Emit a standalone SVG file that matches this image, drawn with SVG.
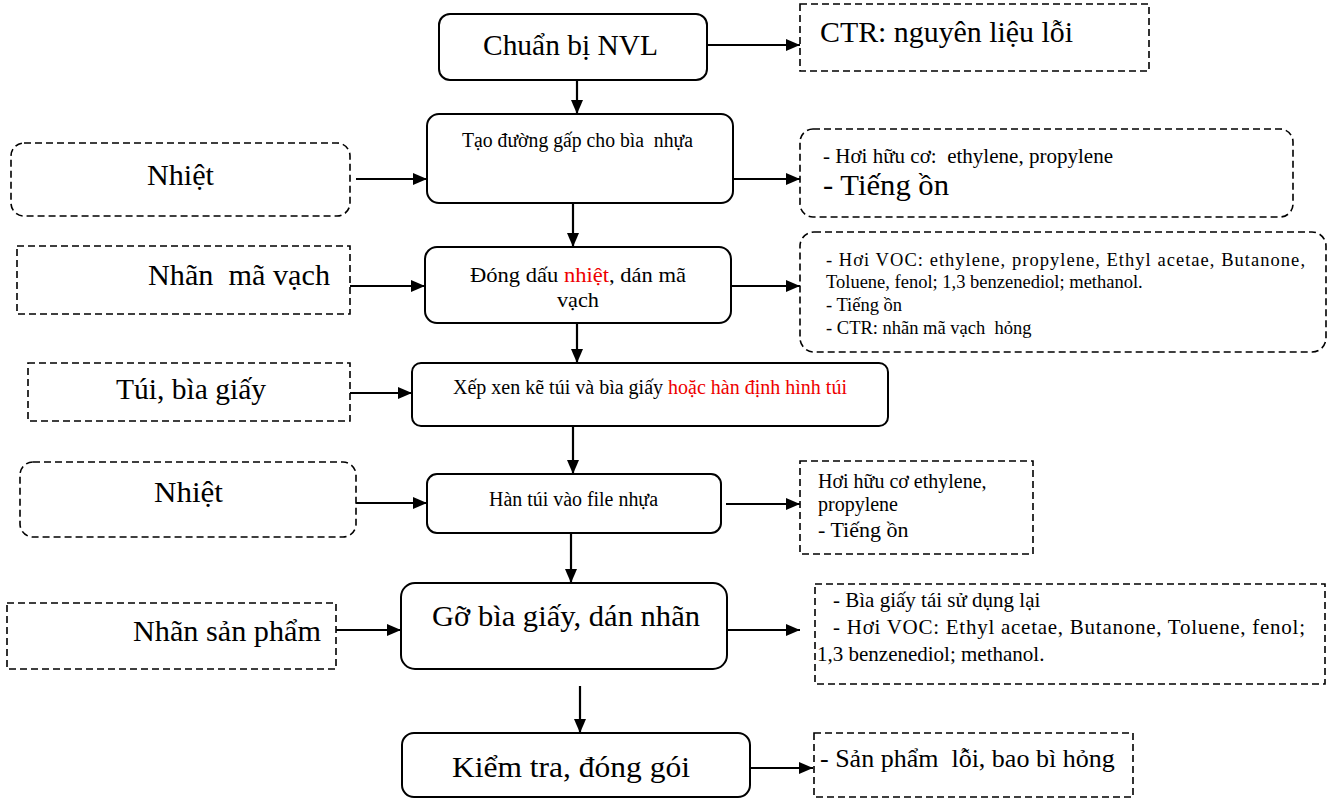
<svg xmlns="http://www.w3.org/2000/svg" width="1331" height="799" viewBox="0 0 1331 799">
  <style>
    text { font-family: "Liberation Serif", "Times New Roman", "DejaVu Serif", serif; fill: #000; }
    .step { fill: #fff; stroke: #000; stroke-width: 2; }
    .aux { fill: #fff; stroke: #000; stroke-width: 1.6; stroke-dasharray: 7 4; }
    .link { stroke: #000; stroke-width: 2.2; fill: none; marker-end: url(#head); }
    .red { fill: #ee0000; }
    .big { font-size: 30px; }
    .mid { font-size: 22px; }
    .small { font-size: 20px; }
  </style>
  <defs>
    <marker id="head" viewBox="0 0 14 12" refX="14" refY="6" markerWidth="14" markerHeight="12" markerUnits="userSpaceOnUse" orient="auto">
      <path d="M0,0 L14,6 L0,12 Z" fill="#000"/>
    </marker>
  </defs>
  <rect width="1331" height="799" fill="#fff"/>

  <!-- connectors -->
  <g id="connectors">
    <line class="link" x1="707" y1="45" x2="800" y2="45"/>
    <line class="link" x1="577" y1="80" x2="577" y2="114"/>
    <line class="link" x1="356" y1="179" x2="427" y2="179"/>
    <line class="link" x1="733" y1="179" x2="800" y2="179"/>
    <line class="link" x1="573" y1="203" x2="573" y2="247"/>
    <line class="link" x1="350" y1="286" x2="425" y2="286"/>
    <line class="link" x1="731" y1="286" x2="800" y2="286"/>
    <line class="link" x1="577" y1="315" x2="577" y2="363"/>
    <line class="link" x1="350" y1="393" x2="412" y2="393"/>
    <line class="link" x1="573" y1="426" x2="573" y2="474"/>
    <line class="link" x1="356" y1="503" x2="427" y2="503"/>
    <line class="link" x1="726" y1="504" x2="800" y2="504"/>
    <line class="link" x1="571" y1="533" x2="571" y2="583"/>
    <line class="link" x1="336" y1="630" x2="401" y2="630"/>
    <line class="link" x1="727" y1="630" x2="800" y2="630"/>
    <line class="link" x1="580" y1="686" x2="580" y2="733"/>
    <line class="link" x1="750" y1="768" x2="813" y2="768"/>
  </g>

  <!-- main process steps -->
  <g id="step-chuan-bi">
    <rect class="step" x="439" y="14" width="268" height="66" rx="11"/>
    <text class="big" x="483" y="55" textLength="175" lengthAdjust="spacingAndGlyphs">Chuẩn bị NVL</text>
  </g>
  <g id="step-tao-duong-gap">
    <rect class="step" x="427" y="114" width="306" height="89" rx="12"/>
    <text class="small" x="462" y="147" textLength="231" lengthAdjust="spacingAndGlyphs" xml:space="preserve">Tạo đường gấp cho bìa  nhựa</text>
  </g>
  <g id="step-dong-dau">
    <rect class="step" x="425" y="247" width="306" height="76" rx="12"/>
    <text class="mid" x="470" y="282" textLength="216" lengthAdjust="spacingAndGlyphs">Đóng dấu <tspan class="red">nhiệt</tspan>, dán mã</text>
    <text class="mid" x="557" y="307" textLength="42" lengthAdjust="spacingAndGlyphs">vạch</text>
  </g>
  <g id="step-xep-xen-ke">
    <rect class="step" x="412" y="363" width="476" height="63" rx="9"/>
    <text class="small" x="453" y="394" textLength="394" lengthAdjust="spacingAndGlyphs">Xếp xen kẽ túi và bìa giấy <tspan class="red">hoặc hàn định hình túi</tspan></text>
  </g>
  <g id="step-han-tui">
    <rect class="step" x="427" y="474" width="294" height="59" rx="10"/>
    <text class="small" x="489" y="506" textLength="169" lengthAdjust="spacingAndGlyphs">Hàn túi vào file nhựa</text>
  </g>
  <g id="step-go-bia">
    <rect class="step" x="401" y="583" width="326" height="86" rx="14"/>
    <text class="big" x="432" y="626" textLength="268" lengthAdjust="spacingAndGlyphs">Gỡ bìa giấy, dán nhãn</text>
  </g>
  <g id="step-kiem-tra">
    <rect class="step" x="402" y="733" width="348" height="64" rx="12"/>
    <text class="big" x="452" y="777" textLength="238" lengthAdjust="spacingAndGlyphs">Kiểm tra, đóng gói</text>
  </g>

  <!-- inputs -->
  <g id="in-nhiet-1">
    <rect class="aux" x="11" y="143" width="339" height="73" rx="13"/>
    <text class="big" x="147" y="185" textLength="67" lengthAdjust="spacingAndGlyphs">Nhiệt</text>
  </g>
  <g id="in-nhan-ma-vach">
    <rect class="aux" x="17" y="246" width="333" height="68"/>
    <text class="big" x="148" y="285" textLength="182" lengthAdjust="spacingAndGlyphs" xml:space="preserve">Nhãn  mã vạch</text>
  </g>
  <g id="in-tui-bia-giay">
    <rect class="aux" x="28" y="363" width="322" height="58"/>
    <text class="big" x="116" y="399" textLength="150" lengthAdjust="spacingAndGlyphs">Túi, bìa giấy</text>
  </g>
  <g id="in-nhiet-2">
    <rect class="aux" x="20" y="462" width="336" height="75" rx="13"/>
    <text class="big" x="154" y="502" textLength="69" lengthAdjust="spacingAndGlyphs">Nhiệt</text>
  </g>
  <g id="in-nhan-san-pham">
    <rect class="aux" x="7" y="603" width="329" height="66"/>
    <text class="big" x="133" y="641" textLength="188" lengthAdjust="spacingAndGlyphs">Nhãn sản phẩm</text>
  </g>

  <!-- outputs -->
  <g id="out-ctr-nguyen-lieu">
    <rect class="aux" x="800" y="4" width="349" height="67"/>
    <text class="big" x="820" y="42" textLength="253" lengthAdjust="spacingAndGlyphs">CTR: nguyên liệu lỗi</text>
  </g>
  <g id="out-huu-co-1">
    <rect class="aux" x="800" y="129" width="493" height="88" rx="13"/>
    <text x="823" y="163" font-size="21" textLength="290" lengthAdjust="spacingAndGlyphs" xml:space="preserve">- Hơi hữu cơ:  ethylene, propylene</text>
    <text x="823" y="195" font-size="30" textLength="126" lengthAdjust="spacingAndGlyphs">- Tiếng ồn</text>
  </g>
  <g id="out-voc-1">
    <rect class="aux" x="800" y="232" width="526" height="120" rx="14"/>
    <text font-size="18.5" x="826" y="266" textLength="479" lengthAdjust="spacing">- Hơi VOC: ethylene, propylene, Ethyl acetae, Butanone,</text>
    <text font-size="18.5" x="826" y="288">Toluene, fenol; 1,3 benzenediol; methanol.</text>
    <text font-size="18.5" x="826" y="311">- Tiếng ồn</text>
    <text font-size="18.5" x="826" y="334" xml:space="preserve">- CTR: nhãn mã vạch  hỏng</text>
  </g>
  <g id="out-huu-co-2">
    <rect class="aux" x="800" y="461" width="233" height="93"/>
    <text font-size="20" x="818" y="488">Hơi hữu cơ ethylene,</text>
    <text font-size="20" x="818" y="511">propylene</text>
    <text font-size="22" x="818" y="537">- Tiếng ồn</text>
  </g>
  <g id="out-voc-2">
    <rect class="aux" x="815" y="584" width="510" height="100"/>
    <text font-size="21" x="833" y="607">- Bìa giấy tái sử dụng lại</text>
    <text font-size="21" x="833" y="634" textLength="472" lengthAdjust="spacing">- Hơi VOC: Ethyl acetae, Butanone, Toluene, fenol;</text>
    <text font-size="21" x="817" y="661">1,3 benzenediol; methanol.</text>
  </g>
  <g id="out-san-pham-loi">
    <rect class="aux" x="814" y="733" width="319" height="64"/>
    <text font-size="26" x="820" y="767" xml:space="preserve">- Sản phẩm  lỗi, bao bì hỏng</text>
  </g>
</svg>
